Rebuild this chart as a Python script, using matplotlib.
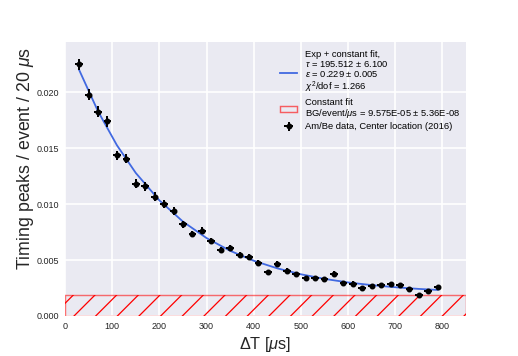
import matplotlib
matplotlib.use("Agg")
import matplotlib.pyplot as plt
from matplotlib.patches import Rectangle

# data
dt = [30, 50, 70, 90, 110, 130, 150, 170, 190, 210, 230, 250, 270, 290, 310,
      330, 350, 370, 390, 410, 430, 450, 470, 490, 510, 530, 550, 570, 590,
      610, 630, 650, 670, 690, 710, 730, 750, 770, 790]
peaks = [0.02249, 0.01978, 0.01827, 0.01741, 0.01436, 0.01406, 0.01184, 0.01160,
         0.01068, 0.00999, 0.00940, 0.00820, 0.00734, 0.00761, 0.00672, 0.00586,
         0.00604, 0.00548, 0.00530, 0.00477, 0.00393, 0.00468, 0.00406, 0.00373,
         0.00337, 0.00337, 0.00329, 0.00379, 0.00296, 0.00290, 0.00251, 0.00269,
         0.00275, 0.00284, 0.00275, 0.00237, 0.00184, 0.00219, 0.00255]
peaks_err = [0.00053, 0.00050, 0.00048, 0.00047, 0.00042, 0.00042, 0.00038, 0.00038,
             0.00037, 0.00035, 0.00034, 0.00032, 0.00030, 0.00031, 0.00029, 0.00027,
             0.00027, 0.00026, 0.00026, 0.00024, 0.00022, 0.00024, 0.00023, 0.00022,
             0.00021, 0.00021, 0.00020, 0.00022, 0.00019, 0.00019, 0.00018, 0.00018,
             0.00018, 0.00019, 0.00018, 0.00017, 0.00015, 0.00016, 0.00018]
dt_err = 8

# fit curve as drawn in the reference
fit_t = [30, 70, 110, 150, 200, 250, 300, 350, 400, 450, 500, 550, 600, 650,
         700, 750, 790]
fit_y = [0.02200, 0.01830, 0.01527, 0.01279, 0.01034, 0.00844, 0.00697, 0.00583,
         0.00494, 0.00426, 0.00373, 0.00332, 0.00300, 0.00276, 0.00257, 0.00242,
         0.00233]

bg_level = 0.001915  # constant fit, per 20 us bin

fit_label = ("Exp + constant fit,\n"
             "$\\tau$ = 195.512 \u00b1 6.100\n"
             "$\\varepsilon$ = 0.229 \u00b1 0.005\n"
             "$\\chi^2$/dof = 1.266")
bg_label = "Constant fit\nBG/event/$\\mu$s = 9.575E-05 \u00b1 5.36E-08"
data_label = "Am/Be data, Center location (2016)"

plt.rcParams["font.family"] = ["Liberation Sans", "DejaVu Sans"]
plt.rcParams["mathtext.fontset"] = "custom"
plt.rcParams["mathtext.rm"] = "Liberation Sans"
plt.rcParams["mathtext.it"] = "Liberation Sans:italic"
plt.rcParams["hatch.linewidth"] = 0.7

fig = plt.figure(figsize=(518 / 130, 356 / 130), dpi=130)
ax = fig.add_axes([0.1255, 0.1124, 0.7741, 0.7696])
ax.set_facecolor("#EAEAF2")
for s in ax.spines.values():
    s.set_visible(False)
ax.grid(True, color="white", linewidth=0.9)
ax.set_axisbelow(True)
ax.tick_params(length=0, labelsize=5.0, colors="#262626", pad=3.5)

# background band: red hatch plus a lighter red outline
ax.axhspan(0, bg_level, facecolor="none", edgecolor="red", hatch="//",
           linewidth=0)
ax.axhspan(0, bg_level, facecolor="none", edgecolor=(1, 0, 0, 0.55),
           linewidth=0.8)
bg_handle = Rectangle((0, 0), 1, 1, facecolor="none", edgecolor=(1, 0, 0, 0.6),
                      linewidth=0.8)

line, = ax.plot(fit_t, fit_y, color="#4169E1", lw=1.0, zorder=3)
eb = ax.errorbar(dt, peaks, xerr=dt_err, yerr=peaks_err, fmt="o", color="black",
                 ms=2.3, elinewidth=1.1, capsize=0, zorder=4)

ax.set_xlim(0, 850)
ax.set_ylim(0, 0.0245)
ax.set_xticks([0, 100, 200, 300, 400, 500, 600, 700, 800])
ax.set_yticks([0, 0.005, 0.010, 0.015, 0.020])
ax.set_yticklabels(["0.000", "0.005", "0.010", "0.015", "0.020"])

ax.set_xlabel("\u0394T [$\\mu$s]", fontsize=9, color="#262626", labelpad=2)
ax.set_ylabel("Timing peaks / event / 20 $\\mu$s", fontsize=9.8, color="#262626")
ax.yaxis.set_label_coords(-0.073, 0.575)

leg = ax.legend([line, bg_handle, eb], [fit_label, bg_label, data_label],
                loc="upper right", bbox_to_anchor=(1.006, 1.0), frameon=False,
                fontsize=5.2, handlelength=1.8, handleheight=0.6,
                handletextpad=0.8, labelspacing=0.3)
for t in leg.get_texts():
    t.set_linespacing(1.0)

fig.savefig("out.png", dpi=130)
